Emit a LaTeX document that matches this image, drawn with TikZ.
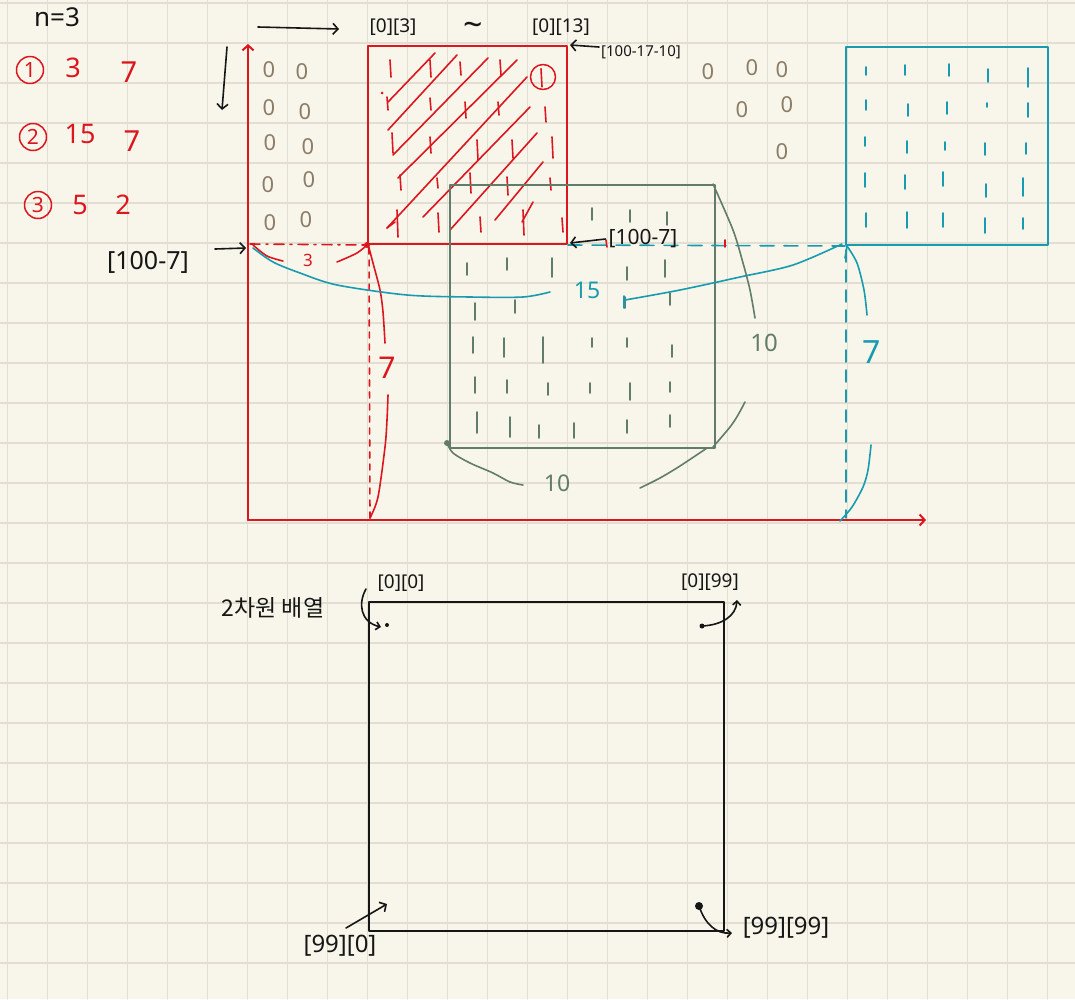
\documentclass[tikz,border=0pt]{standalone}
\usepackage{fontspec}
\setmainfont{Noto Sans}
\newfontfamily\krfont{Noto Sans CJK KR}
\usetikzlibrary{arrows.meta}
\definecolor{bg}{RGB}{248,246,234}
\definecolor{gridc}{RGB}{226,223,210}
\definecolor{hred}{RGB}{220,22,30}
\definecolor{hteal}{RGB}{24,155,176}
\definecolor{hgray}{RGB}{98,124,108}
\definecolor{hbrown}{RGB}{140,125,105}
\definecolor{hblack}{RGB}{22,22,22}
\begin{document}
\begin{tikzpicture}[x=1pt,y=-1pt,line cap=round,line join=round,
  pen/.style={line width=1.6pt},
  lbl/.style={inner sep=0pt,text=hblack},
  fs/.style={font=\fontsize{#1}{#1}\selectfont},
  barb/.style={-{Straight Barb[length=5pt,width=11pt]}},
  box/.style={draw=#1,line width=2pt,inner sep=0pt,anchor=north west},
  circnum/.style={draw=hred,circle,text=hred,line width=1.5pt,inner sep=0pt,minimum size=27pt,fs=21},
  zero/.style={inner sep=0pt,text=hbrown,fs=22},
]
\fill[bg] (0,0) rectangle (1075,999);
\useasboundingbox (0,0) rectangle (1075,999);
\foreach \i in {0,...,26} \draw[gridc,line width=1.3pt] ({7.5+40*\i},0) -- ({7.5+40*\i},999);
\foreach \i in {0,...,24} \draw[gridc,line width=1.3pt] (0,{3+40*\i}) -- (1075,{3+40*\i});

% ---------- top-left notes ----------
\node[lbl,fs=26] (n3) at (57,17) {n=3};
\node[circnum] (c1) at (30,70) {1};
\node[circnum] (c2) at (33,137) {2};
\node[circnum] (c3) at (38,205) {3};
\node[lbl,text=hred,fs=27] (a1) at (73,68) {3};
\node[lbl,text=hred,fs=29] (b1) at (129,72) {7};
\node[lbl,text=hred,fs=27] (a2) at (80,134) {15};
\node[lbl,text=hred,fs=29] (b2) at (132,141) {7};
\node[lbl,text=hred,fs=27] (a3) at (80,205) {5};
\node[lbl,text=hred,fs=27] (b3) at (123,205) {2};
\node[lbl,fs=25] (l1007) at (148,262) {[100-7]};

% ---------- axes ----------
\coordinate (O) at (248,520);
\coordinate (Ytop) at (248,44);
\coordinate (Xend) at (926,520);
\draw[hred,line width=2pt,barb] (O) -- (Ytop);
\draw[hred,line width=2pt,barb] (O) -- (Xend);

% brown zeros
\foreach \x/\y in {269/70,302/72,269/108,305/112,270/143,308/147,268/185,309/180,270/223,306/220,
  708/72,752/68,782/70,742/110,787/105,782/152}
  \node[zero] at (\x,\y) {0};

% ---------- red box ----------
\node[box=hred,minimum width=199pt,minimum height=198pt] (redbox) at (367,45) {};
\foreach \a/\b/\c/\d in {388/102/435/53,388/130/457/55,393/155/488/58,398/178/517/60,
  387/228/527/77,423/217/530/107,450/230/537/133,495/220/543/162,522/222/533/202}
  \draw[hred,pen] (\a,\b) -- (\c,\d);
\draw[hred,pen] (387,228) -- (395,222);
\foreach \x/\a/\b in {390/60/77,430/60/77,460/62/75,500/60/75,387/97/110,430/98/110,465/102/118,
  498/102/115,545/107/122,392/133/153,430/137/153,477/140/160,512/140/158,552/137/158,
  400/175/190,437/178/188,470/173/193,507/177/195,550/178/190,397/210/237,438/213/232,
  480/217/232,523/210/235,562/218/232}
  \draw[hred,pen] (\x,\a) -- (\x+1,\b);
\fill[hred] (382,93) circle (1.5);
\node[draw=hred,circle,line width=1.5pt,minimum size=25pt,inner sep=0pt] (c1box) at (543,77) {};
\draw[hred,pen] (c1box.north) ++(-2,5) -- ++(1,18);

% ---------- gray box ----------
\node[box=hgray,minimum width=265pt,minimum height=263pt] (graybox) at (449,184) {};
\foreach \x/\a/\b in {592/208/220,630/210/222,667/212/225,
  467/263/275,507/258/270,552/258/277,627/267/280,665/260/277,
  475/303/320,515/300/313,625/297/308,670/293/305,
  473/337/353,504/338/357,543/337/363,592/338/347,627/338/347,672/345/357,
  475/377/393,507/380/393,548/383/395,590/383/393,630/383/400,670/382/392,
  477/412/433,510/417/437,539/425/438,574/423/438,627/420/433,670/415/427}
  \draw[hgray,pen] (\x,\a) -- (\x,\b);
\fill[hgray] (447,443) circle (3);

% ---------- teal box ----------
\node[box=hteal,minimum width=202pt,minimum height=198pt] (tealbox) at (845,46) {};
\foreach \x/\a/\b in {866/67/75,905/65/75,949/64/76,988/69/82,1028/68/87,
  866/100/110,908/104/116,947/102/114,987/103/107,1028/103/117,
  865/137/146,907/141/153,945/142/150,985/143/155,1026/143/154,
  865/173/187,905/175/189,943/172/186,986/184/197,1023/178/196,
  866/213/227,907/212/228,943/213/227,985/218/233,1023/218/229}
  \draw[hteal,pen] (\x,\a) -- (\x,\b);

% ---------- dashed guides ----------
\draw[hred,pen,dash pattern=on 10pt off 6pt on 2pt off 6pt] (250,244) -- (redbox.south west);
\draw[hred,pen,dash pattern=on 6pt off 6pt] (369,248) -- (370,519);
\fill[hred] (redbox.south west) circle (3);
\draw[hteal,pen,dash pattern=on 14pt off 10pt] (redbox.south east) -- (tealbox.south west);
\draw[hred,pen] (606,240) -- (607,247);
\draw[hred,pen] (725,240) -- (725,247);
\draw[hteal,pen,dash pattern=on 12pt off 8pt] (846,250) -- (846,518);

% ---------- braces ----------
\draw[hred,pen] plot[smooth] coordinates {(253,245) (267,256) (283,261)};
\draw[hred,pen] plot[smooth] coordinates {(337,262) (357,253) (368,244)};
\node[lbl,text=hred,fs=17] (r3) at (308,260) {3};
\draw[hred,pen] plot[smooth] coordinates {(368,244) (373,263) (380,290) (383,312) (385,343)};
\draw[hred,pen] plot[smooth] coordinates {(388,395) (387,420) (385,447) (378,497) (370,518)};
\node[lbl,text=hred,fs=30] (r7) at (387,368) {7};

\draw[hteal,pen] plot[smooth] coordinates {(253,248) (273,262) (300,273) (337,285) (407,295) (470,297) (523,297) (550,292)};
\draw[hteal,pen] plot[smooth] coordinates {(625,300) (680,290) (740,277) (793,265) (842,244)};
\draw[hteal,pen] (624,296) -- (624,308);
\node[lbl,text=hteal,fs=23] (t15) at (587,290) {15};
\draw[hteal,pen] plot[smooth] coordinates {(847,246) (857,263) (864,290) (867,315)};
\draw[hteal,pen] (847,246) -- (845,258);
\draw[hteal,pen] plot[smooth] coordinates {(871,445) (868,470) (863,487) (852,507) (840,521)};
\node[lbl,text=hteal,fs=32] (t7) at (872,352) {7};

\draw[hgray,pen] plot[smooth] coordinates {(713,184) (733,230) (743,263) (750,290) (755,318)};
\draw[hgray,pen] plot[smooth] coordinates {(745,402) (738,415) (730,427) (713,447)};
\node[lbl,text=hgray,fs=24] (g10a) at (764,343) {10};
\draw[hgray,pen] plot[smooth] coordinates {(447,443) (453,453) (470,463) (493,473) (510,482) (523,485)};
\draw[hgray,pen] plot[smooth] coordinates {(640,488) (660,478) (680,466) (707,448)};
\node[lbl,text=hgray,fs=23] (g10b) at (557,483) {10};

% ---------- top labels and arrows ----------
\node[lbl,fs=19] (l03) at (393,27) {[0][3]};
\node[lbl,fs=34] (tilde) at (473,29) {\char"007E};
\node[lbl,fs=19] (l013) at (561,27) {[0][13]};
\node[lbl,fs=15] (l10017) at (641,52) {[100-17-10]};
\node[lbl,fs=21] (l1007b) at (643,239) {[100-7]};
\coordinate (da1) at (227,47);
\coordinate (da2) at (222,110);
\draw[hblack,pen,barb] (da1) -- (da2);
\coordinate (ra1) at (258,27);
\coordinate (ra2) at (339,29);
\draw[hblack,pen,barb] (ra1) -- (ra2);
\draw[hblack,pen,barb] (215,249) -- (246,248);
\draw[hblack,pen,barb] ([xshift=-2pt]l10017.west) ++(0,-5) -- ([xshift=2pt]redbox.north east);
\draw[hblack,pen,barb] ([xshift=-3pt]l1007b.west) -- ([xshift=2pt,yshift=2pt]redbox.south east);

% ---------- 2D array ----------
\node[lbl,fs=23] (arr) at (273,608) {\krfont 2차원 배열};
\node[box=hblack,minimum width=355pt,minimum height=329pt] (bbox) at (368,601) {};
\node[lbl,fs=19] (l00) at (401,583) {[0][0]};
\node[lbl,fs=19] (l099) at (710,582) {[0][99]};
\node[lbl,fs=24] (l990) at (340,946) {[99][0]};
\node[lbl,fs=24] (l9999) at (786,928) {[99][99]};
\fill[hblack] (387,625) circle (2);
\draw[hblack,pen,-{Straight Barb[length=4pt,width=8pt]}] (366,589) .. controls (358,603) and (360,622) .. (381,627);
\fill[hblack] (702,626) circle (2.5);
\draw[hblack,pen,-{Straight Barb[length=4pt,width=8pt]}] (702,626) .. controls (722,625) and (736,616) .. (737,600);
\draw[hblack,pen,barb] (346,928) -- (387,904);
\fill[hblack] (699,906) circle (4);
\draw[hblack,pen,-{Straight Barb[length=4pt,width=8pt]}] (699,906) .. controls (705,924) and (716,934) .. (732,933);
\end{tikzpicture}
\end{document}
